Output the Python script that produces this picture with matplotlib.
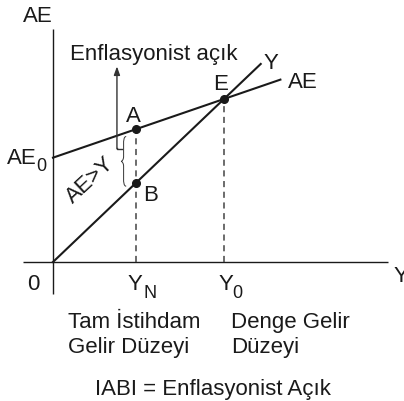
import numpy as np
import matplotlib.pyplot as plt
from matplotlib.path import Path
from matplotlib.patches import PathPatch

plt.rcParams['font.family'] = ['Liberation Sans', 'DejaVu Sans']

# Keynesian cross: AE = AE0 + c*Y against the 45 degree line AE = Y
ae0 = 6.4          # autonomous expenditure AE_0
mpc = 0.36         # slope of the AE line
y_full = 4.85      # full employment income Y_N
y_eq = 10.0        # equilibrium income Y_0
ae_end = 13.3      # where the AE line stops
line45_end = 12.15 # where the Y line stops

x_axis = [-1.75, 19.6]
y_axis = [-1.96, 14.3]

INK = '#1a1a1a'
FS = 16

fig = plt.figure(figsize=(4.04, 4.02), dpi=100)
ax = fig.add_axes([0, 0, 1, 1])
ax.set_xlim(-3.10, 20.53)
ax.set_ylim(-8.53, 16.135)
ax.axis('off')

# axes
ax.plot(x_axis, [0, 0], color=INK, lw=1.0, solid_capstyle='butt')
ax.plot([0, 0], y_axis, color=INK, lw=1.0, solid_capstyle='butt')

# AE and 45 degree line
xs = np.array([0, ae_end])
ax.plot(xs, ae0 + mpc * xs, color=INK, lw=1.5)
xs = np.array([0, line45_end])
ax.plot(xs, xs, color=INK, lw=1.5)

a_val = ae0 + mpc * y_full
b_val = y_full
e_val = ae0 + mpc * y_eq

# dashed drop lines
ax.plot([y_full, y_full], [0, a_val], color='#444444', lw=1.1, ls=(0, (4, 3)))
ax.plot([y_eq, y_eq], [0, e_val], color='#444444', lw=1.1, ls=(0, (4, 3)))

# points A, B, E
ax.plot([y_full, y_full, y_eq], [a_val, b_val, e_val], 'o', color=INK, ms=5.5, zorder=5)

def label(x, y, s, dx, dy, ha='center', size=FS):
    ax.annotate(s, xy=(x, y), xytext=(dx, dy), textcoords='offset pixels',
                ha=ha, va='baseline', fontsize=size, color=INK)

label(y_full, a_val, 'A', -3, 8)
label(y_full, b_val, 'B', 15, -17)
label(y_eq, e_val, 'E', -3, 10)
label(line45_end, line45_end, 'Y', 10, -4)
label(ae_end, ae0 + mpc * ae_end, 'AE', 8, -7, ha='left')

# axis labels
label(0, y_axis[1], 'AE', -15, 8)
label(x_axis[1], 0, 'Y', 5, -19, ha='left')
label(0, 0, '0', -20, -27)
label(0, ae0, 'AE', -46, -5, ha='left')
label(0, ae0, '0', -12, -12, size=13)
label(y_full, 0, 'Y', -1, -27)
label(y_full, 0, 'N', 14, -35, size=13)
label(y_eq, 0, 'Y', 2, -27)
label(y_eq, 0, '0', 13, -35, size=13)

# captions under the axis
label(y_full, 0, 'Tam İstihdam', -68, -65, ha='left')
label(y_full, 0, 'Gelir Düzeyi', -68, -90, ha='left')
label(y_eq, 0, 'Denge Gelir', 7, -65, ha='left')
label(y_eq, 0, 'Düzeyi', 7, -90, ha='left')
ax.text(9.35, -8.07, 'IABI = Enflasyonist Açık', ha='center', va='baseline',
        fontsize=FS, color=INK)

# inflationary gap arrow with its small hook
gx = 3.74
ax.plot([gx, gx, gx + 0.29], [7.0, 6.93, 6.93], color='#333333', lw=1.0)
ax.annotate('', xy=(gx, 12.0), xytext=(gx, 6.95),
            arrowprops=dict(arrowstyle='-|>,head_length=0.5,head_width=0.18',
                            color='#333333', lw=1.0, shrinkA=0, shrinkB=0))
ax.text(gx - 2.75, 12.45, 'Enflasyonist açık', ha='left', va='baseline',
        fontsize=FS, color=INK)

# brace between A and B
bx, tip = 4.28, 3.98
top, bot = a_val - 0.45, b_val - 0.2
mid = (top + bot) / 2
w = 0.15
verts = [(bx, top), (bx - w, top), (bx - w, top - 0.3), (bx - w, top - 0.4),
         (bx - w, mid + 0.3),
         (bx - w, mid + 0.1), (tip + 0.05, mid), (tip, mid),
         (tip + 0.05, mid), (bx - w, mid - 0.1), (bx - w, mid - 0.3),
         (bx - w, bot + 0.4),
         (bx - w, bot + 0.3), (bx - w, bot), (bx, bot)]
codes = [Path.MOVETO, Path.CURVE4, Path.CURVE4, Path.CURVE4,
         Path.LINETO,
         Path.CURVE4, Path.CURVE4, Path.CURVE4,
         Path.CURVE4, Path.CURVE4, Path.CURVE4,
         Path.LINETO,
         Path.CURVE4, Path.CURVE4, Path.CURVE4]
ax.add_patch(PathPatch(Path(verts, codes), fill=False, lw=0.7, color='#333333'))

ax.text(2.2, 5.05, 'AE>Y', rotation=43, ha='center', va='center',
        fontsize=FS, color=INK, rotation_mode='anchor')

fig.savefig('out.png', dpi=100)
